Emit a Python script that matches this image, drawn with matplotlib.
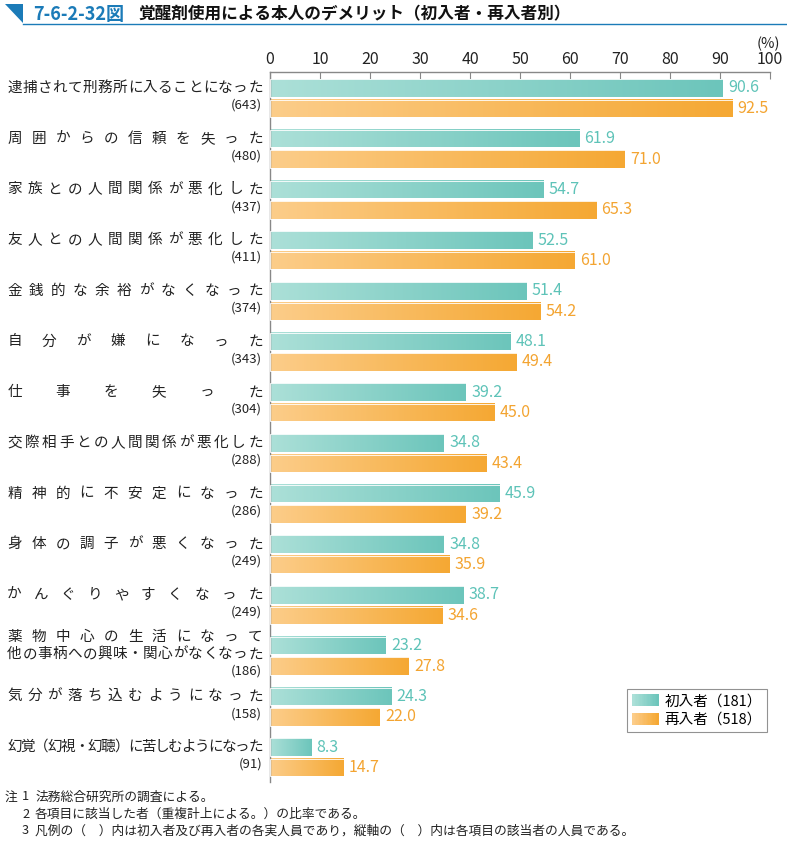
import numpy as np
import matplotlib
matplotlib.use("Agg")
from matplotlib import pyplot as plt
from matplotlib import transforms
from matplotlib.colors import LinearSegmentedColormap
from matplotlib.patches import Rectangle, Polygon
from matplotlib.legend_handler import HandlerBase

plt.rcParams['font.family'] = ['Noto Sans CJK JP', 'DejaVu Sans']

labels = [
    "逮捕されて刑務所に入ることになった",
    "周囲からの信頼を失った",
    "家族との人間関係が悪化した",
    "友人との人間関係が悪化した",
    "金銭的な余裕がなくなった",
    "自分が嫌になった",
    "仕事を失った",
    "交際相手との人間関係が悪化した",
    "精神的に不安定になった",
    "身体の調子が悪くなった",
    "かんぐりやすくなった",
    "薬物中心の生活になって\n他の事柄への興味・関心がなくなった",
    "気分が落ち込むようになった",
    "幻覚（幻視・幻聴）に苦しむようになった",
]
counts = [643, 480, 437, 411, 374, 343, 304, 288, 286, 249, 249, 186, 158, 91]
first = [90.6, 61.9, 54.7, 52.5, 51.4, 48.1, 39.2, 34.8, 45.9, 34.8, 38.7, 23.2, 24.3, 8.3]
repeat = [92.5, 71.0, 65.3, 61.0, 54.2, 49.4, 45.0, 43.4, 39.2, 35.9, 34.6, 27.8, 22.0, 14.7]
series_names = ["初入者（181）", "再入者（518）"]
xticks = [0, 10, 20, 30, 40, 50, 60, 70, 80, 90, 100]
notes = [
    ("注", "1", "法務総合研究所の調査による。"),
    ("", "2", "各項目に該当した者（重複計上による。）の比率である。"),
    ("", "3", "凡例の（　）内は初入者及び再入者の各実人員であり，縦軸の（　）内は各項目の該当者の人員である。"),
]

teal = ("#ace0d8", "#6cc5bb")
orange = ("#fccd8a", "#f5a833")
teal_txt = "#5ec3b8"
orange_txt = "#f3a431"
blue = "#1b7bb8"

W, H = 787, 849
fig = plt.figure(figsize=(W / 100, H / 100), dpi=100)
ax = fig.add_axes([270 / W, 1 - 782 / H, 500 / W, (782 - 72) / H])

y = np.arange(len(labels))
off = 20.5 / 50.7
bh = 17.5 / 50.7


def grad_bars(bars, cols):
    cmap = LinearSegmentedColormap.from_list("g", list(cols))
    g = np.linspace(0, 1, 256).reshape(1, -1)
    for b in bars:
        x0, y0 = b.get_x(), b.get_y()
        w, h = b.get_width(), b.get_height()
        ax.imshow(g, cmap=cmap, aspect="auto", extent=(x0, x0 + w, y0 + h, y0),
                  interpolation="bicubic", zorder=2)
        b.set_facecolor("none")
        b.set_edgecolor("#ffffff")
        b.set_linewidth(0.6)
        b.set_zorder(3)


b1 = ax.barh(y, first, height=bh)
b2 = ax.barh(y + off, repeat, height=bh)
grad_bars(b1, teal)
grad_bars(b2, orange)

for i in range(len(labels)):
    ax.text(first[i] + 1.0, y[i], f"{first[i]:.1f}", color=teal_txt, fontsize=11.5,
            va="center", ha="left")
    ax.text(repeat[i] + 1.0, y[i] + off, f"{repeat[i]:.1f}", color=orange_txt, fontsize=11.5,
            va="center", ha="left")

ax.set_xlim(0, 100)
ax.set_ylim(13.69, -16 / 50.7)
ax.xaxis.tick_top()
ax.set_xticks(xticks)
ax.tick_params(axis="x", direction="in", length=5, color="#888888", pad=3,
               labelsize=11.5, labelcolor="#222222")
ax.set_yticks([])
for s in ["right", "bottom"]:
    ax.spines[s].set_visible(False)
for s in ["top", "left"]:
    ax.spines[s].set_color("#888888")
    ax.spines[s].set_linewidth(1.0)

fig.text(768 / W, 1 - 44 / H, "(%)", fontsize=10.5, ha="center", va="center", color="#222222")

# justified category labels
tr = transforms.blended_transform_factory(fig.transFigure, ax.transData)
xl, xr, cw = 7, 263, 15


def spread(line, yy):
    n = len(line)
    step = (xr - xl - cw) / (n - 1)
    for k, ch in enumerate(line):
        cx = xl + cw / 2 + k * step
        fig.text(cx / W, yy, ch, transform=tr, fontsize=10.5, ha="center", va="center",
                 color="#222222")


for i, lab in enumerate(labels):
    lines = lab.split("\n")
    if len(lines) == 1:
        spread(lines[0], y[i])
        cy = y[i] + 0.34
    else:
        spread(lines[0], y[i] - 0.17)
        spread(lines[1], y[i] + 0.17)
        cy = y[i] + 0.5
    fig.text(262 / W, cy, f"({counts[i]})", transform=tr, fontsize=9.5, ha="right",
             va="center", color="#222222")


# legend with gradient swatches
class GradHandler(HandlerBase):
    def __init__(self, cols):
        super().__init__()
        self.cols = cols

    def create_artists(self, legend, orig_handle, xdescent, ydescent, width, height,
                       fontsize, trans):
        cmap = LinearSegmentedColormap.from_list("g", list(self.cols))
        n = 20
        arts = []
        for k in range(n):
            r = Rectangle((-xdescent + width * k / n, -ydescent), width / n + 0.3, height,
                          facecolor=cmap(k / (n - 1)), edgecolor="none", transform=trans)
            arts.append(r)
        return arts


h1 = Rectangle((0, 0), 1, 1)
h2 = Rectangle((0, 0), 1, 1)
leg = fig.legend([h1, h2], series_names, loc="upper right",
                 bbox_to_anchor=(767 / W, 1 - 689 / H),
                 handler_map={h1: GradHandler(teal), h2: GradHandler(orange)},
                 fontsize=10.5, frameon=True, fancybox=False, edgecolor="#777777",
                 handlelength=1.8, handleheight=0.9, handletextpad=0.4, labelspacing=0.3,
                 borderpad=0.35, borderaxespad=0)
leg.get_frame().set_linewidth(0.8)

# title block
fig.patches.append(Polygon([[5 / W, 1 - 4 / H], [23 / W, 1 - 4 / H], [23 / W, 1 - 23 / H]],
                           closed=True, facecolor=blue, edgecolor="none",
                           transform=fig.transFigure, figure=fig))
fig.add_artist(plt.Line2D([23 / W, 1], [1 - 24 / H, 1 - 24 / H], color=blue, lw=1.0,
                          transform=fig.transFigure))
fig.text(33 / W, 1 - 14 / H, "7-6-2-32図", color=blue, fontsize=13, fontweight="bold",
         ha="left", va="center")
fig.text(138 / W, 1 - 14 / H, "覚醒剤使用による本人のデメリット（初入者・再入者別）",
         color="#111111", fontsize=12, fontweight="bold", ha="left", va="center")

# notes
for j, (a, b, c) in enumerate(notes):
    yy = 1 - (797 + 17 * j) / H
    fig.text(5 / W, yy, a, fontsize=9.2, ha="left", va="center", color="#222222")
    fig.text(22 / W, yy, b, fontsize=9.2, ha="left", va="center", color="#222222")
    fig.text(35 / W, yy, c, fontsize=9.2, ha="left", va="center", color="#222222")

fig.savefig("out.png", dpi=100)
